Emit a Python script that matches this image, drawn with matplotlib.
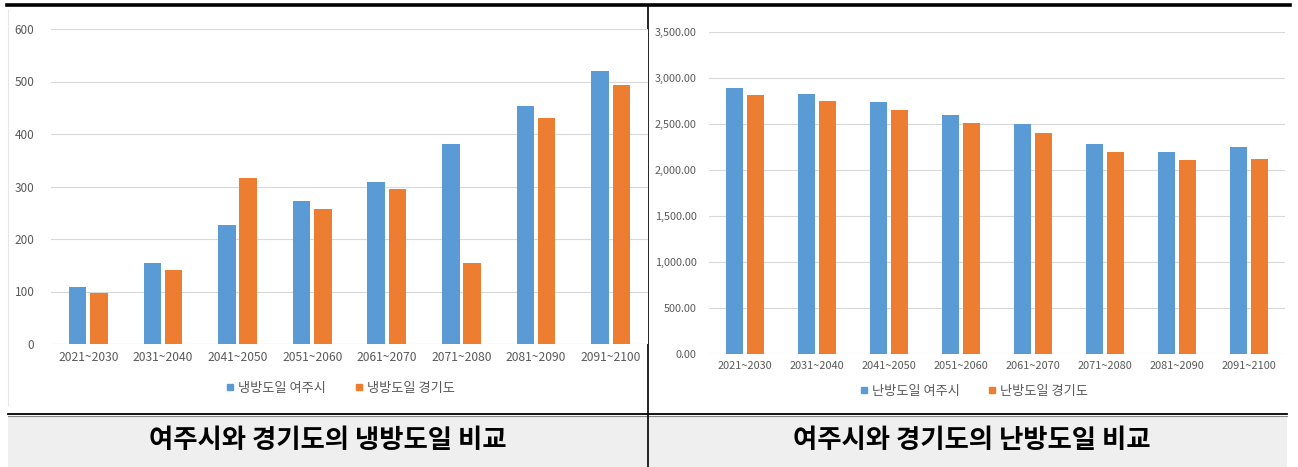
import matplotlib.pyplot as plt
import numpy as np
from matplotlib.lines import Line2D
from matplotlib.patches import Rectangle
from matplotlib.ticker import FuncFormatter

plt.rcParams['font.family'] = ['Noto Sans CJK KR', 'DejaVu Sans']

periods = ['2021~2030', '2031~2040', '2041~2050', '2051~2060',
           '2061~2070', '2071~2080', '2081~2090', '2091~2100']

cooling_yeoju = [108, 155, 227, 272, 309, 381, 453, 520]
cooling_gyeonggi = [98, 141, 317, 258, 295, 154, 431, 494]

heating_yeoju = [2890, 2829, 2739, 2598, 2500, 2286, 2196, 2246]
heating_gyeonggi = [2818, 2753, 2648, 2508, 2398, 2196, 2105, 2123]

cooling_names = ['냉방도일 여주시', '냉방도일 경기도']
heating_names = ['난방도일 여주시', '난방도일 경기도']
captions = ['여주시와 경기도의 냉방도일 비교', '여주시와 경기도의 난방도일 비교']

BLUE = '#5B9BD5'
ORANGE = '#ED7D31'
GRID = '#D9D9D9'
TXT = '#595959'

W, H = 1298, 467
fig = plt.figure(figsize=(W / 100, H / 100), dpi=100)


def px_axes(x0, y0, x1, y1):
    # pixel box (top-left origin) -> figure axes
    return fig.add_axes([x0 / W, 1 - y1 / H, (x1 - x0) / W, (y1 - y0) / H])


# background table frame
bg = fig.add_axes([0, 0, 1, 1], zorder=-5)
bg.set_xlim(0, W)
bg.set_ylim(H, 0)
bg.axis('off')
bg.add_patch(Rectangle((8, 417), 1279, 50, color='#EFEFEF', lw=0))
bg.plot([7, 1290], [5, 5], color='black', lw=2.6)
bg.plot([8, 1287], [413.5, 413.5], color='black', lw=1.3)
bg.plot([8, 1287], [416.3, 416.3], color='#888888', lw=0.8)
bg.plot([647.5, 647.5], [6, 467], color='black', lw=1.2)
bg.plot([8, 8], [10, 405], color='#E6E6E6', lw=0.8)
for cx, cap in zip([328, 972], captions):
    bg.text(cx, 441, cap, ha='center', va='center',
            fontsize=19, fontweight='bold', color='black')


def bar_chart(ax, a, b, names, ylim, step, fmt, fs_y, fs_x, ypad, leg_x, leg_y):
    x = np.arange(len(periods))
    w = 0.235
    ax.bar(x - w / 2 - 0.025, a, w, color=BLUE, label=names[0], zorder=3)
    ax.bar(x + w / 2 + 0.025, b, w, color=ORANGE, label=names[1], zorder=3)
    ax.set_xlim(-0.5, len(periods) - 0.5)
    ax.set_ylim(0, ylim)
    ax.set_yticks(np.arange(0, ylim + 1, step))
    ax.yaxis.set_major_formatter(FuncFormatter(fmt))
    ax.set_xticks(x, periods)
    ax.grid(axis='y', color=GRID, lw=0.8, zorder=0)
    for s in ax.spines.values():
        s.set_visible(False)
    ax.tick_params(axis='both', length=0, colors=TXT)
    ax.tick_params(axis='y', labelsize=fs_y, pad=ypad)
    ax.tick_params(axis='x', labelsize=fs_x, pad=5)
    ax.axhline(0, color=GRID, lw=0.8, zorder=2)
    handles = [Line2D([], [], marker='s', ls='none', color=BLUE, markersize=4.5),
               Line2D([], [], marker='s', ls='none', color=ORANGE, markersize=4.5)]
    ax.legend(handles, names, loc='center', ncol=2, frameon=False,
              bbox_to_anchor=(leg_x, leg_y), fontsize=9.5, labelcolor=TXT,
              handlelength=0.6, handletextpad=0.3, columnspacing=2.2)


ax1 = px_axes(51, 29, 648, 344)
bar_chart(ax1, cooling_yeoju, cooling_gyeonggi, cooling_names, 600, 100,
          lambda v, p: f'{v:.0f}', 8.5, 8.7, 12, 0.485, -0.14)

ax2 = px_axes(709, 32, 1285, 354)
bar_chart(ax2, heating_yeoju, heating_gyeonggi, heating_names, 3500, 500,
          lambda v, p: f'{v:,.2f}', 7.8, 7.9, 9, 0.46, -0.115)

fig.savefig('out.png', dpi=100)
